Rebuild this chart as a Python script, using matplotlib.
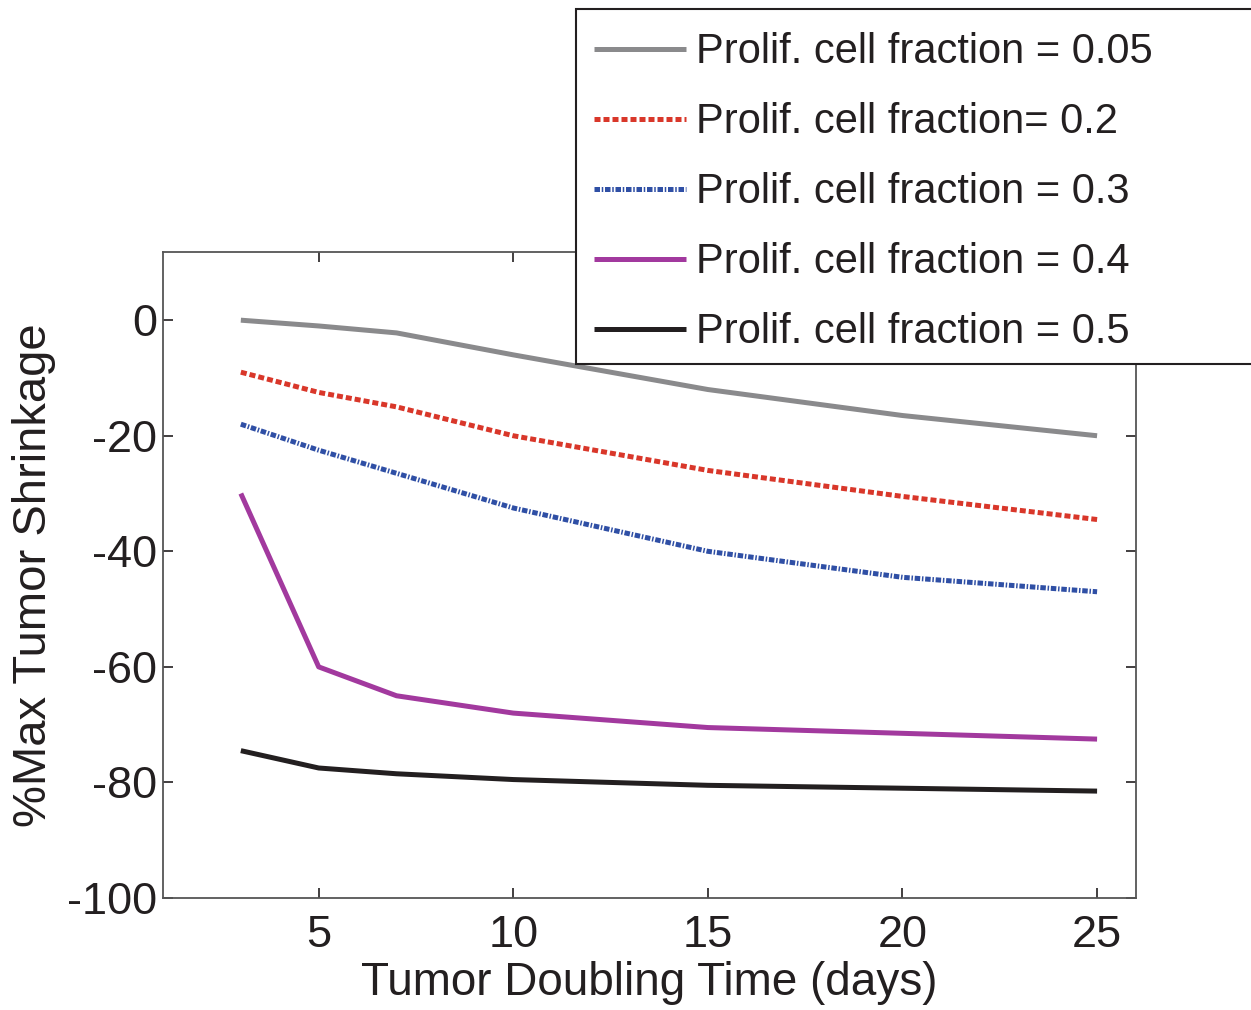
import matplotlib
matplotlib.use("Agg")
import matplotlib.pyplot as plt
from matplotlib.patches import Rectangle

plt.rcParams['font.family'] = ['Liberation Sans', 'DejaVu Sans']
plt.rcParams['axes.unicode_minus'] = False

doubling_time = [3, 5, 7, 10, 15, 20, 25]
frac_005 = [0, -1, -2.2, -6, -12, -16.5, -20]
frac_02 = [-9, -12.5, -15, -20, -26, -30.5, -34.5]
frac_03 = [-18, -22.5, -26.5, -32.5, -40, -44.5, -47]
frac_04 = [-30, -60, -65, -68, -70.5, -71.5, -72.5]
frac_05 = [-74.5, -77.5, -78.5, -79.5, -80.5, -81, -81.5]
labels = ["Prolif. cell fraction = 0.05", "Prolif. cell fraction= 0.2",
          "Prolif. cell fraction = 0.3", "Prolif. cell fraction = 0.4",
          "Prolif. cell fraction = 0.5"]
xticks = [5, 10, 15, 20, 25]
yticks = [0, -20, -40, -60, -80, -100]

W, H = 1251, 1010
fig = plt.figure(figsize=(W / 100, H / 100), dpi=100)
ax = fig.add_axes([163 / W, 1 - 898 / H, (1136 - 163) / W, (898 - 252) / H])

lw = 3.6
ax.plot(doubling_time, frac_005, color='#8a8a8c', lw=lw, label=labels[0], solid_capstyle='butt')
ax.plot(doubling_time, frac_02, color='#d9372a', lw=lw, label=labels[1], linestyle=(0, (1.2, 0.6)))
ax.plot(doubling_time, frac_03, color='#2f4fa5', lw=lw, label=labels[2], linestyle=(0, (1.1, 0.35, 0.3, 0.35)))
ax.plot(doubling_time, frac_04, color='#a2399e', lw=lw, label=labels[3], solid_capstyle='butt')
ax.plot(doubling_time, frac_05, color='#231f20', lw=lw, label=labels[4], solid_capstyle='butt')

ax.set_xlim(1, 26)
ax.set_ylim(-100, 11.8)
ax.set_xticks(xticks)
ax.set_yticks(yticks)
ax.tick_params(direction='in', length=7, width=1.2, top=True, right=True,
               labelsize=32.5, colors='#231f20', pad=12)
ax.tick_params(axis='y', pad=4)
for s in ax.spines.values():
    s.set_linewidth(1.3)
    s.set_color('#555555')

ax.set_xlabel("Tumor Doubling Time (days)", fontsize=33, color='#231f20', labelpad=4)
ax.set_ylabel("%Max Tumor Shrinkage", fontsize=34, color='#231f20', labelpad=8)

frame = Rectangle((576 / W, 1 - 364 / H), (W + 20 - 576) / W, (364 - 9) / H,
                  transform=fig.transFigure, facecolor='white', edgecolor='#231f20',
                  linewidth=1.5, zorder=4, clip_on=False)
fig.patches.append(frame)

handles, labs = ax.get_legend_handles_labels()
leg = fig.legend(handles, labs, loc='upper left', bbox_to_anchor=(586 / W, 1 - 24 / H),
                 frameon=False, fontsize=30, handlelength=2.2, handletextpad=0.25,
                 labelspacing=0.72, borderpad=0.2, borderaxespad=0)
leg.set_zorder(5)
for t in leg.get_texts():
    t.set_color('#231f20')

fig.savefig("out.png", dpi=100)
